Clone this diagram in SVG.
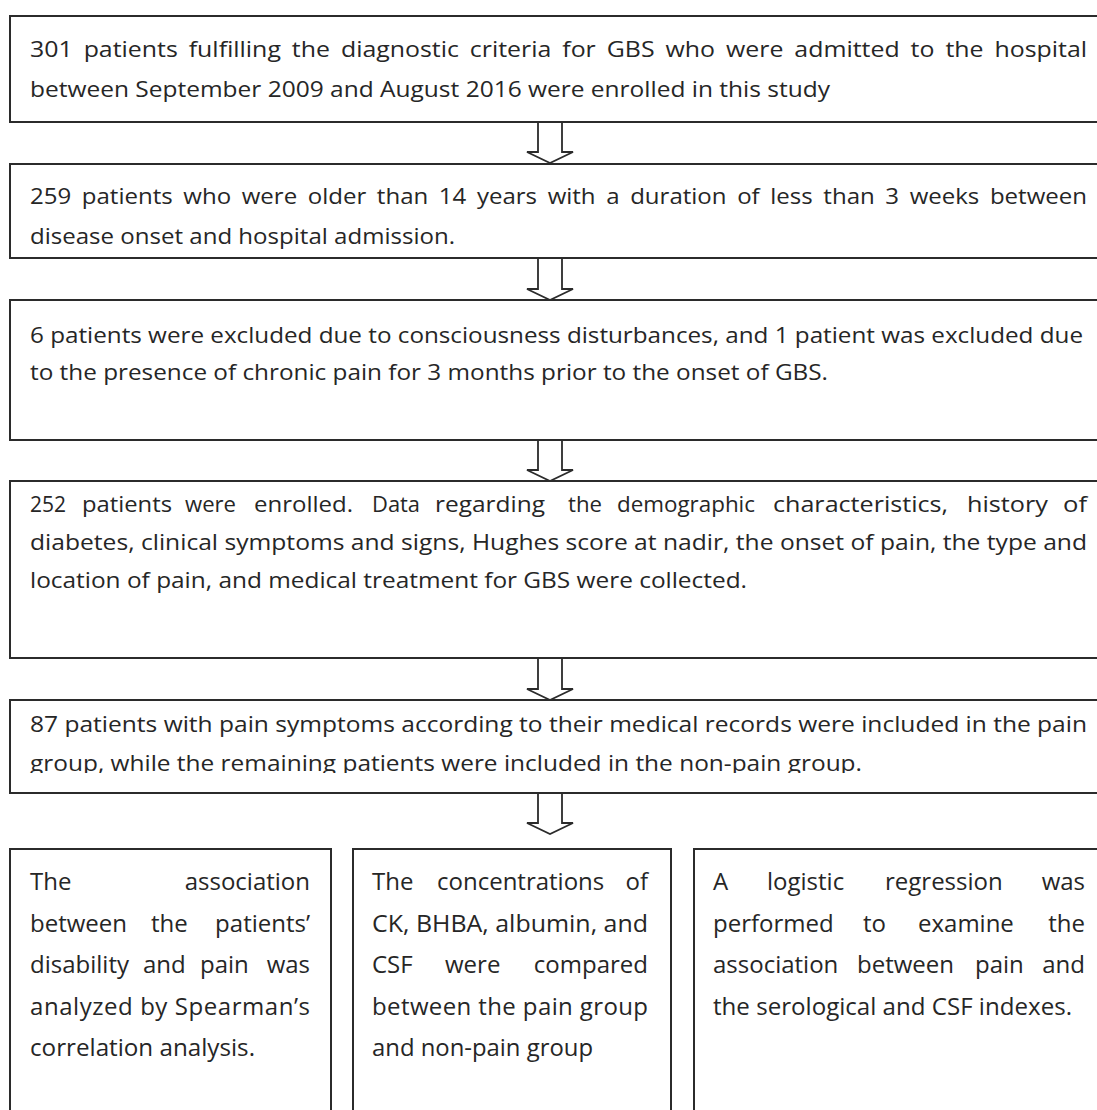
<svg xmlns="http://www.w3.org/2000/svg" width="1097" height="1110" viewBox="0 0 1097 1110">
<defs>
<style>
.box{fill:#fff;stroke:#2b2b2b;stroke-width:2}
.arr{fill:#fff;stroke:#2b2b2b;stroke-width:1.8;stroke-linejoin:miter}
.t{font-family:"Open Sans","Liberation Sans",sans-serif;font-size:22px;fill:#262626}
.b{font-size:24px}
.e{text-anchor:end}
.w{word-spacing:4px}
</style>
<clipPath id="clip5"><rect x="0" y="700" width="1097" height="73"/></clipPath>
</defs>
<rect width="1097" height="1110" fill="#fff"/>

<g id="connectors">
<path class="arr" d="M538,122 V152 H527 L550,163 L573,152 H562 V122 Z"/>
<path class="arr" d="M538,258 V289 H527 L550,300 L573,289 H562 V258 Z"/>
<path class="arr" d="M538,440 V470 H527 L550,481 L573,470 H562 V440 Z"/>
<path class="arr" d="M538,658 V689 H527 L550,700 L573,689 H562 V658 Z"/>
<path class="arr" d="M538,793 V823 H527 L550,834 L573,823 H562 V793 Z"/>
</g>

<g id="node1">
<rect class="box" x="10" y="16" width="1100" height="106"/>
<text class="t w" x="30" y="57" textLength="1057" lengthAdjust="spacingAndGlyphs">301 patients fulfilling the diagnostic criteria for GBS who were admitted to the hospital</text>
<text class="t" x="30" y="97" textLength="800" lengthAdjust="spacingAndGlyphs">between September 2009 and August 2016 were enrolled in this study</text>
</g>

<g id="node2">
<rect class="box" x="10" y="164" width="1100" height="94"/>
<text class="t w" x="30" y="204" textLength="1057" lengthAdjust="spacingAndGlyphs">259 patients who were older than 14 years with a duration of less than 3 weeks between</text>
<text class="t" x="30" y="244" textLength="425" lengthAdjust="spacingAndGlyphs">disease onset and hospital admission.</text>
</g>

<g id="node3">
<rect class="box" x="10" y="300" width="1100" height="140"/>
<text class="t" x="30" y="343" textLength="1053" lengthAdjust="spacingAndGlyphs">6 patients were excluded due to consciousness disturbances, and 1 patient was excluded due</text>
<text class="t" x="30" y="380" textLength="798" lengthAdjust="spacingAndGlyphs">to the presence of chronic pain for 3 months prior to the onset of GBS.</text>
</g>

<g id="node4">
<rect class="box" x="10" y="481" width="1100" height="177"/>
<text class="t" x="30" y="512" textLength="36" lengthAdjust="spacingAndGlyphs">252</text>
<text class="t" x="82" y="512" textLength="90" lengthAdjust="spacingAndGlyphs">patients</text>
<text class="t" x="185" y="512" textLength="51" lengthAdjust="spacingAndGlyphs">were</text>
<text class="t" x="254" y="512" textLength="99" lengthAdjust="spacingAndGlyphs">enrolled.</text>
<text class="t" x="372" y="512" textLength="48" lengthAdjust="spacingAndGlyphs">Data</text>
<text class="t" x="435" y="512" textLength="110" lengthAdjust="spacingAndGlyphs">regarding</text>
<text class="t" x="568" y="512" textLength="34" lengthAdjust="spacingAndGlyphs">the</text>
<text class="t" x="617" y="512" textLength="138" lengthAdjust="spacingAndGlyphs">demographic</text>
<text class="t" x="773" y="512" textLength="175" lengthAdjust="spacingAndGlyphs">characteristics,</text>
<text class="t" x="967" y="512" textLength="81" lengthAdjust="spacingAndGlyphs">history</text>
<text class="t" x="1063" y="512" textLength="24" lengthAdjust="spacingAndGlyphs">of</text>
<text class="t" x="30" y="550" textLength="1057" lengthAdjust="spacingAndGlyphs">diabetes, clinical symptoms and signs, Hughes score at nadir, the onset of pain, the type and</text>
<text class="t" x="30" y="588" textLength="717" lengthAdjust="spacingAndGlyphs">location of pain, and medical treatment for GBS were collected.</text>
</g>

<g id="node5">
<rect class="box" x="10" y="700" width="1100" height="93"/>
<text class="t" x="30" y="732" textLength="1057" lengthAdjust="spacingAndGlyphs">87 patients with pain symptoms according to their medical records were included in the pain</text>
<text class="t" x="30" y="771" textLength="832" lengthAdjust="spacingAndGlyphs" clip-path="url(#clip5)">group, while the remaining patients were included in the non-pain group.</text>
</g>

<g id="node6">
<rect class="box" x="10" y="849" width="321" height="300"/>
<text class="t b" x="30" y="890">The</text>
<text class="t b e" x="310" y="890">association</text>
<text class="t b" y="931.5"><tspan x="30">between</tspan><tspan x="151">the</tspan></text>
<text class="t b e" x="310" y="931.5">patients’</text>
<text class="t b" y="973"><tspan x="30">disability</tspan><tspan x="143">and</tspan><tspan x="200">pain</tspan></text>
<text class="t b e" x="310" y="973">was</text>
<text class="t b" x="30" y="1014.5" textLength="280" lengthAdjust="spacing">analyzed by Spearman’s</text>
<text class="t b" x="30" y="1056" textLength="225" lengthAdjust="spacingAndGlyphs">correlation analysis.</text>
</g>

<g id="node7">
<rect class="box" x="353" y="849" width="318" height="300"/>
<text class="t b" y="890"><tspan x="372">The</tspan><tspan x="437">concentrations</tspan></text>
<text class="t b e" x="648" y="890">of</text>
<text class="t b" x="372" y="931.5" textLength="276" lengthAdjust="spacingAndGlyphs">CK, BHBA, albumin, and</text>
<text class="t b" y="973"><tspan x="372">CSF</tspan><tspan x="445">were</tspan></text>
<text class="t b e" x="648" y="973">compared</text>
<text class="t b" x="372" y="1014.5" textLength="276" lengthAdjust="spacing">between the pain group</text>
<text class="t b" x="372" y="1056" textLength="221" lengthAdjust="spacingAndGlyphs">and non-pain group</text>
</g>

<g id="node8">
<rect class="box" x="694" y="849" width="450" height="300"/>
<text class="t b" y="890"><tspan x="713">A</tspan><tspan x="767">logistic</tspan><tspan x="885">regression</tspan></text>
<text class="t b e" x="1085" y="890">was</text>
<text class="t b" y="931.5"><tspan x="713">performed</tspan><tspan x="863">to</tspan><tspan x="918">examine</tspan></text>
<text class="t b e" x="1085" y="931.5">the</text>
<text class="t b" y="973"><tspan x="713">association</tspan><tspan x="857">between</tspan><tspan x="975">pain</tspan></text>
<text class="t b e" x="1085" y="973">and</text>
<text class="t b" x="713" y="1014.5" textLength="359" lengthAdjust="spacingAndGlyphs">the serological and CSF indexes.</text>
</g>
</svg>
